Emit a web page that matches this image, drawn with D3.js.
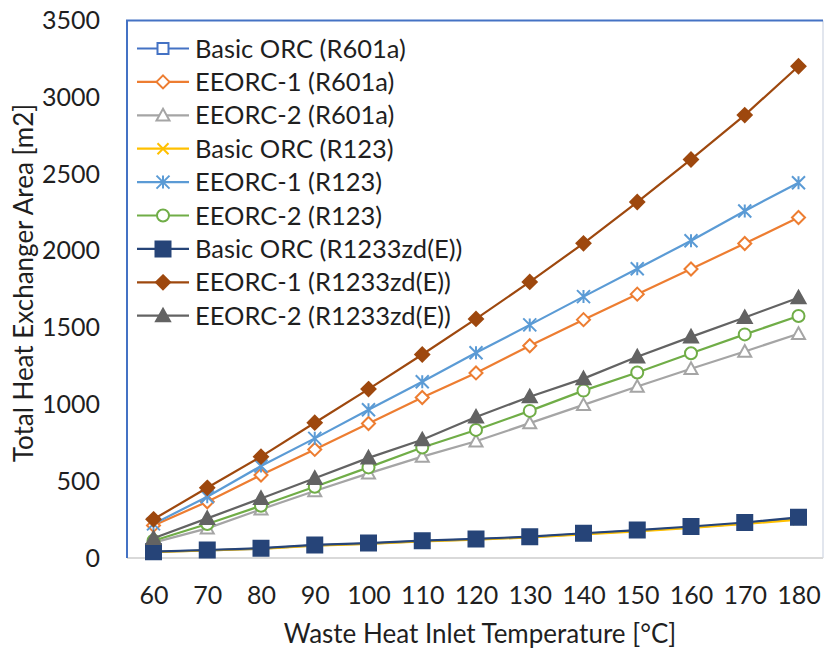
<!DOCTYPE html>
<html>
<head>
<meta charset="utf-8">
<script src="https://cdn.jsdelivr.net/npm/d3@7"></script>
<style>
  html, body { margin: 0; padding: 0; background: #fff; }
  svg { display: block; font-family: Lato, "Open Sans", sans-serif; }
</style>
</head>
<body>
<svg id="chart" width="825" height="653"></svg>
<script>
// Waste heat inlet temperature (°C)
const temperatures = [60, 70, 80, 90, 100, 110, 120, 130, 140, 150, 160, 170, 180];

// Total heat exchanger area [m2] for each cycle / working fluid
const basicR601a    = [40, 50, 61, 82, 94, 110, 121, 136, 157, 178, 200, 226, 258];
const eeorc1R601a   = [212, 366, 540, 707, 876, 1045, 1205, 1382, 1552, 1718, 1882, 2048, 2217];
const eeorc2R601a   = [100, 193, 317, 436, 551, 660, 760, 878, 997, 1117, 1232, 1345, 1460];
const basicR123     = [38, 49, 60, 80, 92, 108, 119, 134, 153, 174, 196, 222, 250];
const eeorc1R123    = [222, 399, 599, 779, 965, 1148, 1336, 1518, 1702, 1884, 2066, 2260, 2444];
const eeorc2R123    = [112, 221, 340, 464, 590, 720, 834, 958, 1090, 1208, 1333, 1456, 1576];
const basicR1233    = [41, 52, 64, 85, 97, 113, 124, 139, 161, 182, 205, 231, 265];
const eeorc1R1233   = [252, 457, 660, 881, 1100, 1325, 1557, 1798, 2049, 2318, 2595, 2884, 3202];
const eeorc2R1233   = [128, 258, 388, 519, 652, 770, 918, 1050, 1168, 1310, 1440, 1566, 1695];

const seriesNames = [
  "Basic ORC (R601a)", "EEORC-1 (R601a)", "EEORC-2 (R601a)",
  "Basic ORC (R123)", "EEORC-1 (R123)", "EEORC-2 (R123)",
  "Basic ORC (R1233zd(E))", "EEORC-1 (R1233zd(E))", "EEORC-2 (R1233zd(E))"
];
const seriesValues = [
  basicR601a, eeorc1R601a, eeorc2R601a,
  basicR123, eeorc1R123, eeorc2R123,
  basicR1233, eeorc1R1233, eeorc2R1233
];
const yTicks = [0, 500, 1000, 1500, 2000, 2500, 3000, 3500];
const xTitle = "Waste Heat Inlet Temperature [°C]";
const yTitle = "Total Heat Exchanger Area [m2]";

// Line colour and marker style per series
const styles = [
  { color: "#4472C4", marker: "square",   fill: false, size: 11 },
  { color: "#ED7D31", marker: "diamond",  fill: false, size: 13 },
  { color: "#A5A5A5", marker: "triangle", fill: false, size: 13 },
  { color: "#FFC000", marker: "cross",    fill: false, size: 11 },
  { color: "#5B9BD5", marker: "star",     fill: false, size: 13 },
  { color: "#70AD47", marker: "circle",   fill: false, size: 12 },
  { color: "#264478", marker: "square",   fill: true,  size: 15 },
  { color: "#9E480E", marker: "diamond",  fill: true,  size: 14 },
  { color: "#636363", marker: "triangle", fill: true,  size: 14 }
];

const textColor = "#1f1f1f";
const svg = d3.select("#chart");
const plot = { left: 127, top: 20.5, right: 823, bottom: 558 };

const x = d3.scalePoint().domain(temperatures).range([153.5, 798.5]);
const y = d3.scaleLinear().domain([0, 3500]).range([plot.bottom, plot.top]);

// Marker path generator, centred on (0,0)
function markerPath(type, s) {
  const h = s / 2;
  switch (type) {
    case "square":   return `M${-h},${-h}H${h}V${h}H${-h}Z`;
    case "diamond":  return `M0,${-h}L${h},0L0,${h}L${-h},0Z`;
    case "triangle": return `M0,${-h}L${h},${h * 0.8}L${-h},${h * 0.8}Z`;
    case "cross":    return `M${-h},${-h}L${h},${h}M${h},${-h}L${-h},${h}`;
    case "star":     return `M${-h},${-h}L${h},${h}M${h},${-h}L${-h},${h}M0,${-h}V${h}`;
    case "circle":   return d3.arc()({ innerRadius: 0, outerRadius: h, startAngle: 0, endAngle: 2 * Math.PI });
  }
}

function drawMarker(g, st, cx, cy) {
  const open = !st.fill && (st.marker === "cross" || st.marker === "star");
  g.append("path")
    .attr("transform", `translate(${cx},${cy})`)
    .attr("d", markerPath(st.marker, st.size))
    .attr("fill", st.fill ? st.color : (open ? "none" : "#fff"))
    .attr("stroke", st.color)
    .attr("stroke-width", 2)
    .attr("stroke-linejoin", "miter");
}

// Plot area border (right side)
svg.append("line").attr("x1", plot.right).attr("x2", plot.right)
  .attr("y1", plot.top).attr("y2", plot.bottom)
  .attr("stroke", "#D9DEE8").attr("stroke-width", 1.5);

// X axis baseline
svg.append("line").attr("x1", plot.left).attr("x2", plot.right)
  .attr("y1", plot.bottom).attr("y2", plot.bottom)
  .attr("stroke", "#D9D9D9").attr("stroke-width", 2);

// Series lines and markers
const line = d3.line().x((d, i) => x(temperatures[i])).y(d => y(d));
const seriesG = svg.append("g");
seriesValues.forEach((vals, k) => {
  const st = styles[k];
  const g = seriesG.append("g");
  g.append("path").datum(vals).attr("d", line)
    .attr("fill", "none").attr("stroke", st.color).attr("stroke-width", 2.2);
  vals.forEach((v, i) => drawMarker(g, st, x(temperatures[i]), y(v)));
});

// Plot area border (left and top)
svg.append("path")
  .attr("d", `M${plot.left},${plot.bottom}V${plot.top}H${plot.right}`)
  .attr("fill", "none").attr("stroke", "#4472C4").attr("stroke-width", 2);

// Y axis tick labels
const yAxis = d3.axisLeft(y).tickValues(yTicks).tickSize(0).tickPadding(0).tickFormat(d3.format("d"));
const yg = svg.append("g").attr("transform", "translate(100,0)").call(yAxis);
yg.select(".domain").remove();
yg.selectAll("text").attr("font-family", "Lato, sans-serif").attr("font-size", 25).attr("fill", textColor);

// X axis tick labels
const xAxis = d3.axisBottom(x).tickSize(0).tickPadding(0);
const xg = svg.append("g").attr("transform", "translate(0,586)").call(xAxis);
xg.select(".domain").remove();
xg.selectAll("text").attr("font-family", "Lato, sans-serif").attr("font-size", 25).attr("fill", textColor);

// Axis titles
svg.append("text").attr("x", 480).attr("y", 643).attr("text-anchor", "middle")
  .attr("font-size", 26).attr("fill", textColor).text(xTitle);
svg.append("text").attr("transform", "translate(33,283) rotate(-90)").attr("text-anchor", "middle")
  .attr("font-size", 26).attr("fill", textColor).text(yTitle);

// Legend
const legend = svg.append("g");
seriesNames.forEach((name, k) => {
  const st = styles[k];
  const ly = 48.5 + k * 33.4;
  const g = legend.append("g");
  g.append("line").attr("x1", 137).attr("x2", 189).attr("y1", ly).attr("y2", ly)
    .attr("stroke", st.color).attr("stroke-width", 2.2);
  drawMarker(g, st, 163, ly);
  g.append("text").attr("x", 195).attr("y", ly).attr("dy", "0.36em")
    .attr("font-size", 25.5).attr("fill", textColor).text(name);
});
</script>
</body>
</html>
